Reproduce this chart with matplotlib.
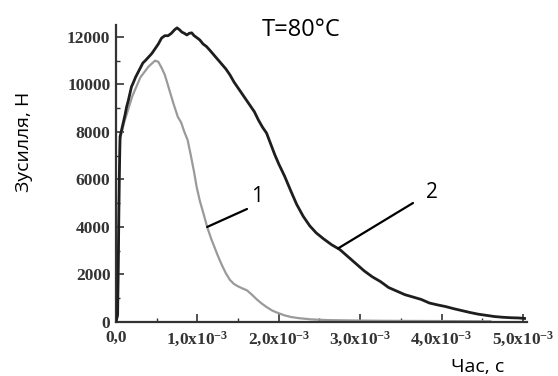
import matplotlib
matplotlib.use("Agg")
import matplotlib.pyplot as plt
from matplotlib.ticker import MultipleLocator, FixedLocator

plt.rcParams['mathtext.fontset'] = 'custom'
plt.rcParams['mathtext.rm'] = 'Liberation Serif:bold'
plt.rcParams['mathtext.it'] = 'Liberation Serif:bold'
plt.rcParams['mathtext.bf'] = 'Liberation Serif:bold'
plt.rcParams['mathtext.default'] = 'rm'

# ---- data (time in units of 1e-3 s, force in N) ----
time2 = [0.00, 0.02, 0.03, 0.04, 0.05, 0.07, 0.09, 0.11, 0.13, 0.15, 0.17, 0.19,
         0.21, 0.24, 0.27, 0.30, 0.33, 0.36, 0.40, 0.44, 0.48, 0.52, 0.56, 0.60,
         0.64, 0.68, 0.72, 0.75, 0.78, 0.81, 0.84, 0.87, 0.90, 0.93, 0.96, 1.00,
         1.03, 1.07, 1.11, 1.15, 1.20, 1.25, 1.30, 1.35, 1.40, 1.45, 1.50, 1.55,
         1.60, 1.65, 1.70, 1.75, 1.80, 1.85, 1.90, 1.95, 2.00, 2.07, 2.15, 2.22,
         2.30, 2.38, 2.46, 2.55, 2.65, 2.75, 2.85, 2.95, 3.05, 3.15, 3.25, 3.35,
         3.45, 3.55, 3.65, 3.75, 3.85, 3.95, 4.05, 4.15, 4.25, 4.35, 4.45, 4.55,
         4.65, 4.75, 4.85, 4.95, 5.02]
force2 = [0, 300, 3000, 6000, 7800, 8100, 8400, 8700, 9050, 9300, 9600, 9900,
          10050, 10300, 10500, 10700, 10900, 11000, 11150, 11300, 11500, 11700, 11950, 12050,
          12050, 12150, 12300, 12380, 12300, 12200, 12150, 12080, 12150, 12170, 12050, 11950,
          11870, 11700, 11600, 11450, 11250, 11050, 10850, 10650, 10400, 10100, 9850, 9600,
          9350, 9100, 8850, 8500, 8200, 7950, 7500, 7050, 6650, 6150, 5500, 4950,
          4450, 4050, 3750, 3500, 3250, 3050, 2750, 2450, 2150, 1900, 1700, 1450,
          1300, 1150, 1050, 950, 800, 720, 650, 560, 480, 400, 330, 280,
          230, 200, 180, 170, 150]

time1 = [0.00, 0.02, 0.03, 0.04, 0.05, 0.10, 0.20, 0.30, 0.40, 0.48, 0.52, 0.56,
         0.60, 0.63, 0.67, 0.71, 0.76, 0.80, 0.84, 0.88, 0.92, 0.96, 0.99, 1.03,
         1.08, 1.12, 1.17, 1.21, 1.25, 1.30, 1.35, 1.40, 1.45, 1.50, 1.55, 1.61,
         1.67, 1.73, 1.79, 1.85, 1.92, 1.99, 2.07, 2.15, 2.25, 2.40, 2.60, 2.80,
         3.00, 3.30, 3.60, 4.00, 4.30, 4.60]
force1 = [0, 300, 3000, 6000, 7700, 8400, 9500, 10300, 10750, 11000, 10950, 10700,
          10400, 10060, 9600, 9150, 8630, 8400, 8000, 7660, 7000, 6300, 5700, 5100,
          4500, 4000, 3500, 3150, 2800, 2400, 2050, 1770, 1600, 1500, 1420, 1330,
          1150, 950, 780, 630, 480, 380, 280, 210, 160, 110, 80, 70,
          60, 50, 45, 40, 35, 30]

x_ticks = [0, 1, 2, 3, 4, 5]
x_tick_labels = ["0,0", r"1,0x10$^{-3}$", r"2,0x10$^{-3}$", r"3,0x10$^{-3}$",
                 r"4,0x10$^{-3}$", r"5,0x10$^{-3}$"]
y_ticks = [0, 2000, 4000, 6000, 8000, 10000, 12000]
y_tick_labels = ["0", "2000", "4000", "6000", "8000", "10000", "12000"]

W, H = 558, 376
fig = plt.figure(figsize=(W / 100, H / 100), dpi=100)
ax = fig.add_axes([116 / W, 1 - 322 / H, (527 - 116) / W, (322 - 25) / H])

ax.plot(time1, force1, color='#9a9a9a', lw=1.6, zorder=2)
ax.plot(time2, force2, color='#1e1e1e', lw=2.0, zorder=3)

ax.set_xlim(0, 5.05)
ax.set_ylim(0, 12500)
for s in ['top', 'right']:
    ax.spines[s].set_visible(False)
for s in ['left', 'bottom']:
    ax.spines[s].set_linewidth(1.6)
    ax.spines[s].set_color('#333333')

ax.xaxis.set_major_locator(FixedLocator(x_ticks))
ax.set_xticklabels(x_tick_labels)
ax.xaxis.set_minor_locator(MultipleLocator(0.5))
ax.yaxis.set_major_locator(FixedLocator(y_ticks))
ax.set_yticklabels(y_tick_labels)
ax.yaxis.set_minor_locator(MultipleLocator(1000))
ax.tick_params(which='major', direction='in', length=6, width=1.2, color='#333333',
               labelcolor='#333333')
ax.tick_params(which='minor', direction='in', length=3, width=1.0, color='#333333')
ax.tick_params(axis='x', pad=6)
ax.tick_params(axis='y', pad=4)
for lab in ax.get_xticklabels() + ax.get_yticklabels():
    lab.set_fontfamily('Liberation Serif')
    lab.set_fontweight('bold')
    lab.set_fontsize(12.5)

txtfont = dict(family='Open Sans', color='black')
fig.text(301 / W, 1 - 36 / H, "T=80°C", ha='center', va='baseline', fontsize=17, **txtfont)
fig.text(478 / W, 1 - 372 / H, "Час, с", ha='center', va='baseline', fontsize=14, **txtfont)
fig.text(24 / W, 1 - 142 / H, "Зусилля, Н", ha='center', va='center', rotation=90,
         fontsize=14, **txtfont)
fig.text(257 / W, 1 - 202 / H, "1", ha='center', va='baseline', fontsize=15, **txtfont)
fig.text(432 / W, 1 - 198 / H, "2", ha='center', va='baseline', fontsize=15, **txtfont)

# annotation leader lines (pointing to curves)
ax.annotate("", xy=(1.12, 4000), xytext=(247 / W, 1 - 209 / H), textcoords='figure fraction',
            arrowprops=dict(arrowstyle='-', color='black', lw=1.6, shrinkA=0, shrinkB=0))
ax.annotate("", xy=(2.73, 3100), xytext=(413 / W, 1 - 203 / H), textcoords='figure fraction',
            arrowprops=dict(arrowstyle='-', color='black', lw=1.6, shrinkA=0, shrinkB=0))

fig.savefig("out.png", dpi=100)
